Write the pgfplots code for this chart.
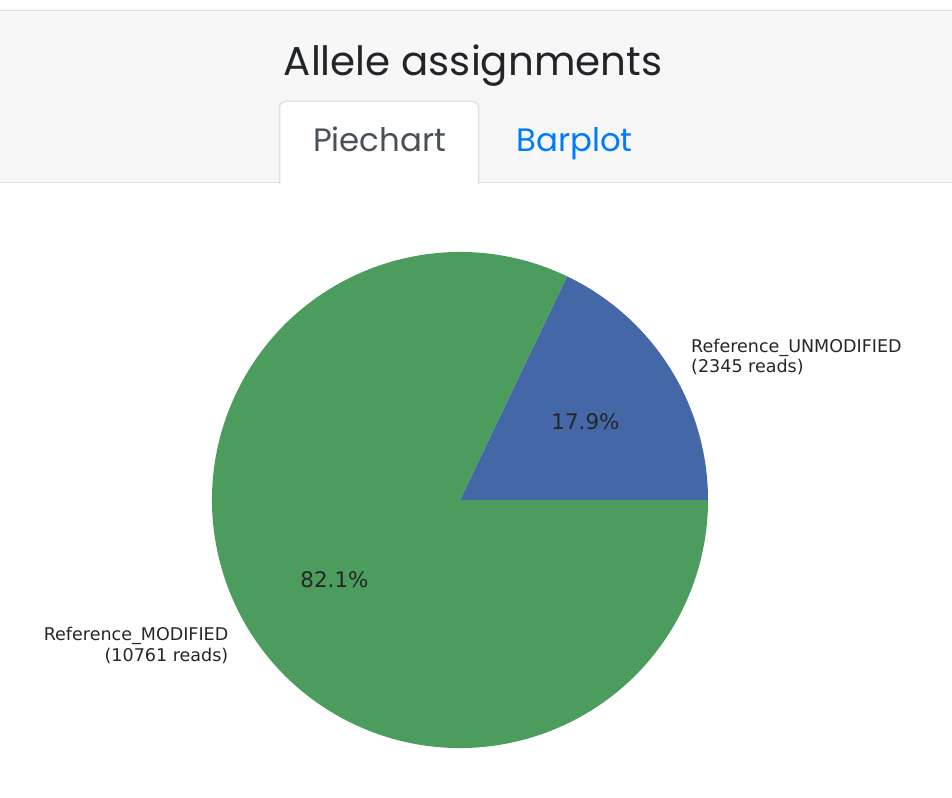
\documentclass[border=0pt]{standalone}
\usepackage{pgfplots}
\pgfplotsset{compat=1.18}
\usepackage{fontspec}
\setmainfont{DejaVu Sans}
\newfontfamily\headfont{Poppins}
\definecolor{pieblue}{HTML}{4467A8}
\definecolor{piegreen}{HTML}{4C9D5D}
\definecolor{txt}{HTML}{262626}
\definecolor{headbg}{HTML}{F7F7F7}
\definecolor{border}{HTML}{DEE2E6}
\definecolor{linkblue}{HTML}{007BFF}
\definecolor{tabtxt}{HTML}{495057}
\definecolor{titletxt}{HTML}{212529}
\begin{document}
\begin{tikzpicture}
\def\vUnmod{2345}
\def\vMod{10761}
\pgfmathsetmacro{\total}{\vUnmod+\vMod}
\pgfmathsetmacro{\angU}{\vUnmod/\total*360}
\begin{axis}[
  scale only axis, width=952bp, height=798bp,
  xmin=0, xmax=952, ymin=0, ymax=798, y dir=reverse,
  hide axis,
]
% header
\fill[headbg] (axis cs:0,11) rectangle (axis cs:952,182);
\draw[border, line width=1.5bp] (axis cs:0,10.5) -- (axis cs:952,10.5);
\draw[border, line width=1.5bp] (axis cs:0,182.5) -- (axis cs:280,182.5);
\draw[border, line width=1.5bp] (axis cs:478,182.5) -- (axis cs:952,182.5);
\draw[border, line width=1.5bp, fill=white, rounded corners=6bp] (axis cs:279.5,184) -- (axis cs:279.5,101.5) -- (axis cs:478.5,101.5) -- (axis cs:478.5,184);
\node[text=titletxt, font=\headfont\fontsize{40.5}{46}\selectfont, anchor=base] at (axis cs:473,76) {Allele assignments};
\node[text=tabtxt, font=\headfont\fontsize{32.5}{38}\selectfont, anchor=base] at (axis cs:379.5,152) {Piechart};
\node[text=linkblue, font=\headfont\fontsize{32.5}{38}\selectfont, anchor=base] at (axis cs:574.5,152) {Barplot};
% pie
\fill[pieblue] (axis cs:460,500) -- ++(0:248bp) arc[start angle=0, end angle=\angU, radius=248bp] -- cycle;
\fill[piegreen] (axis cs:460,500) -- ++(\angU:248bp) arc[start angle=\angU, end angle=360, radius=248bp] -- cycle;
\node[text=txt, font=\fontsize{21.5}{25}\selectfont] at (axis cs:585.5,421.5) {17.9\%};
\node[text=txt, font=\fontsize{21.5}{25}\selectfont] at (axis cs:334.5,579.5) {82.1\%};
\node[text=txt, font=\fontsize{17.6}{20.5}\selectfont, anchor=base west, align=left, inner sep=0pt] at (axis cs:691,372.5) {Reference\_UNMODIFIED\\(2345 reads)};
\node[text=txt, font=\fontsize{17.6}{20.5}\selectfont, anchor=base east, align=right, inner sep=0pt] at (axis cs:228.5,661) {Reference\_MODIFIED\\(10761 reads)};
\end{axis}
\path (current axis.south west) rectangle (current axis.north east);
\end{tikzpicture}
\end{document}
